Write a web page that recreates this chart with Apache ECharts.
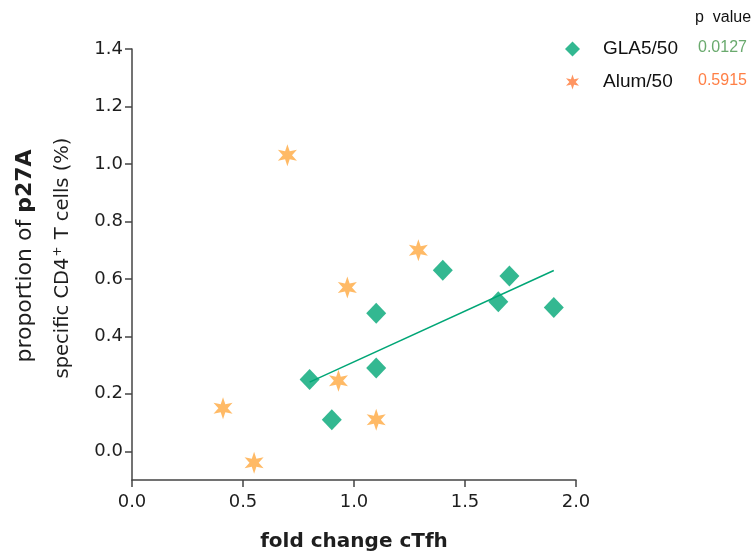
<!DOCTYPE html>
<html>
<head>
<meta charset="utf-8">
<script src="https://cdn.jsdelivr.net/npm/echarts@6/dist/echarts.min.js"></script>
<style>
  html, body { margin: 0; padding: 0; background: #ffffff; }
  #chart { width: 755px; height: 551px; }
</style>
</head>
<body>
<div id="chart"></div>
<script>
// Individual subjects: fold change in cTfh vs. proportion of p27A-specific CD4+ T cells
const glaX  = [0.80, 0.90, 1.10, 1.10, 1.40, 1.65, 1.70, 1.90];
const glaY  = [0.25, 0.11, 0.48, 0.29, 0.63, 0.52, 0.61, 0.50];
const alumX = [0.41, 0.55, 0.70, 0.93, 0.97, 1.10, 1.29];
const alumY = [0.15, -0.04, 1.03, 0.245, 0.57, 0.11, 0.70];

const xTicks = [0, 0.5, 1.0, 1.5, 2.0];
const yTicks = [0, 0.2, 0.4, 0.6, 0.8, 1.0, 1.2, 1.4];

const groupNames = ['GLA5/50', 'Alum/50'];
const pValues = ['0.0127', '0.5915'];

// Least-squares fit for the GLA5/50 group, drawn across the group's x range
function linearFit(xs, ys) {
  const n = xs.length;
  const mx = xs.reduce((a, b) => a + b, 0) / n;
  const my = ys.reduce((a, b) => a + b, 0) / n;
  let sxy = 0, sxx = 0;
  for (let i = 0; i < n; i++) {
    sxy += (xs[i] - mx) * (ys[i] - my);
    sxx += (xs[i] - mx) * (xs[i] - mx);
  }
  const slope = sxy / sxx;
  return { slope: slope, intercept: my - slope * mx };
}
const fit = linearFit(glaX, glaY);
const fitX = [Math.min(...glaX), Math.max(...glaX)];
const fitLine = fitX.map(x => [x, fit.intercept + fit.slope * x]);

// Six-pointed star marker
function sixStarPath(inner) {
  const pts = [];
  for (let k = 0; k < 12; k++) {
    const a = (-90 + 30 * k) * Math.PI / 180;
    const r = k % 2 === 0 ? 1 : inner;
    pts.push((r * Math.cos(a)).toFixed(4) + ' ' + (r * Math.sin(a)).toFixed(4));
  }
  return 'path://M' + pts.join(' L') + ' Z';
}
const STAR = sixStarPath(0.42);

const GREEN = '#00a676';
const ORANGE = '#ffa940';
const AXIS = '#444444';
const TEXT = '#1e1e1e';
const FONT = 'DejaVu Sans';

const chart = echarts.init(document.getElementById('chart'), null, { renderer: 'canvas' });

chart.setOption({
  backgroundColor: '#ffffff',
  animation: false,
  grid: { left: 132, top: 49, right: 179, bottom: 71, containLabel: false, outerBoundsMode: 'none' },
  xAxis: {
    type: 'value',
    min: 0, max: 2, interval: 0.5,
    name: 'fold change cTfh',
    nameLocation: 'middle',
    nameGap: 52,
    nameTextStyle: { fontFamily: FONT, fontWeight: 'bold', fontSize: 20, color: TEXT },
    axisLine: { show: true, onZero: false, lineStyle: { color: AXIS, width: 1.5 } },
    axisTick: { show: true, length: 7, lineStyle: { color: AXIS, width: 1.5 }, customValues: xTicks },
    axisLabel: {
      fontFamily: FONT, fontSize: 18, color: TEXT, margin: 13,
      customValues: xTicks,
      formatter: v => v.toFixed(1)
    },
    splitLine: { show: false }
  },
  yAxis: {
    type: 'value',
    min: -0.1, max: 1.4,
    axisLine: { show: true, onZero: false, lineStyle: { color: AXIS, width: 1.5 } },
    axisTick: { show: true, length: 7, lineStyle: { color: AXIS, width: 1.5 }, customValues: yTicks },
    axisLabel: {
      fontFamily: FONT, fontSize: 18, color: TEXT, margin: 9,
      customValues: yTicks,
      formatter: v => v.toFixed(1)
    },
    splitLine: { show: false }
  },
  legend: {
    orient: 'vertical',
    left: 560, top: 34,
    itemWidth: 15, itemHeight: 15,
    itemGap: 13,
    textStyle: { fontFamily: 'Liberation Sans', fontSize: 19, color: '#111', padding: [0, 0, 0, 18], lineHeight: 20 },
    data: [
      { name: groupNames[0], icon: 'diamond', itemStyle: { color: GREEN } },
      { name: groupNames[1], icon: STAR, itemStyle: { color: '#ff7b3a' } }
    ]
  },
  series: [
    {
      name: groupNames[0],
      type: 'scatter',
      symbol: 'diamond',
      symbolSize: [20, 21],
      itemStyle: { color: GREEN },
      data: glaX.map((x, i) => [x, glaY[i]]),
      z: 3
    },
    {
      name: groupNames[1],
      type: 'scatter',
      symbol: STAR,
      symbolKeepAspect: true,
      symbolSize: 22,
      itemStyle: { color: ORANGE },
      data: alumX.map((x, i) => [x, alumY[i]]),
      z: 2
    },
    {
      name: 'fit',
      type: 'line',
      data: fitLine,
      symbol: 'none',
      lineStyle: { color: GREEN, width: 1.5 },
      z: 1,
      silent: true
    }
  ],
  graphic: [
    {
      type: 'text', x: 25, y: 256, rotation: Math.PI / 2,
      style: {
        text: 'proportion of {b|p27A}',
        fontFamily: FONT, fontSize: 22, fill: TEXT,
        align: 'center', verticalAlign: 'middle',
        rich: { b: { fontFamily: FONT, fontSize: 22, fontWeight: 'bold', fill: TEXT } }
      }
    },
    {
      type: 'text', x: 63, y: 258, rotation: Math.PI / 2,
      style: {
        text: 'specific CD4{sup|+} T cells (%)',
        fontFamily: FONT, fontSize: 19.5, fill: TEXT,
        align: 'center', verticalAlign: 'middle',
        rich: { sup: { fontFamily: FONT, fontSize: 12, fill: TEXT, padding: [0, 1, 10, 1] } }
      }
    },
    {
      type: 'text', x: 695, y: 18,
      style: { text: 'p  value', fontFamily: 'Liberation Sans', fontSize: 16, fill: '#111', verticalAlign: 'middle' }
    },
    {
      type: 'text', x: 698, y: 48,
      style: { text: pValues[0], fontFamily: 'Liberation Sans', fontSize: 16, fill: '#6aaa6e', verticalAlign: 'middle' }
    },
    {
      type: 'text', x: 698, y: 81,
      style: { text: pValues[1], fontFamily: 'Liberation Sans', fontSize: 16, fill: '#ff7f45', verticalAlign: 'middle' }
    }
  ]
});
</script>
</body>
</html>
